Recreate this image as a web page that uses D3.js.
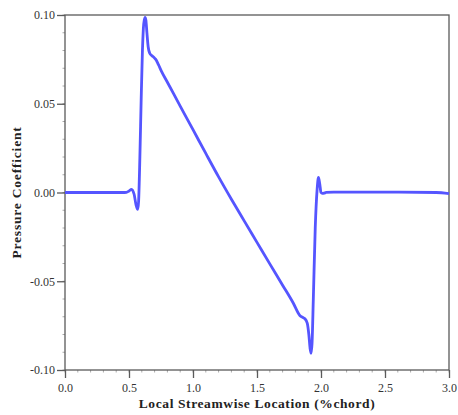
<!DOCTYPE html>
<html>
<head>
<meta charset="utf-8">
<script src="https://cdn.jsdelivr.net/npm/d3@7"></script>
<style>
  html, body { margin: 0; padding: 0; background: #fff; }
  svg { display: block; }
</style>
</head>
<body>
<svg id="chart" width="458" height="415"></svg>
<script>
// Data
const xValues = [0.00, 0.20, 0.45, 0.48, 0.50, 0.52, 0.54, 0.555, 0.568, 0.575, 0.585, 0.595, 0.605, 0.615, 0.625, 0.632, 0.640, 0.650, 0.662, 0.677, 0.692, 0.709, 0.730, 0.755, 0.80, 0.90, 1.00, 1.10, 1.20, 1.30, 1.40, 1.50, 1.60, 1.70, 1.784, 1.836, 1.860, 1.875, 1.893, 1.905, 1.915, 1.922, 1.930, 1.940, 1.955, 1.970, 1.980, 1.990, 2.000, 2.010, 2.025, 2.040, 2.100, 2.500, 2.900, 3.000];
const cpValues = [0.0000, 0.0000, 0.0000, 0.0001, 0.0008, 0.0018, -0.0010, -0.0070, -0.0095, -0.0050, 0.0200, 0.0520, 0.0800, 0.0950, 0.0987, 0.0970, 0.0900, 0.0820, 0.0785, 0.0772, 0.0763, 0.0750, 0.0720, 0.0681, 0.0621, 0.0487, 0.0354, 0.0220, 0.0088, -0.0038, -0.0160, -0.0281, -0.0402, -0.0522, -0.0624, -0.0694, -0.0705, -0.0712, -0.0737, -0.0800, -0.0880, -0.0906, -0.0850, -0.0600, -0.0200, 0.0020, 0.0085, 0.0050, 0.0000, -0.0005, -0.0004, 0.0001, 0.0002, 0.0002, 0.0000, -0.0006];
const xTicks = [0.0, 0.5, 1.0, 1.5, 2.0, 2.5, 3.0];
const yTicks = [-0.10, -0.05, 0.00, 0.05, 0.10];
const xLabel = "Local Streamwise Location (%chord)";
const yLabel = "Pressure Coefficient";

const FONT = "'Liberation Serif', 'Times New Roman', serif";
const svg = d3.select("#chart");
const mLeft = 65, mRight = 449, mTop = 15, mBottom = 370;
const axisColor = "#5a5a5a";

const x = d3.scaleLinear().domain([0, 3]).range([mLeft, mRight]);
const y = d3.scaleLinear().domain([-0.10, 0.10]).range([mBottom, mTop]);

// minor ticks
const xMinor = d3.range(0, 3.0001, 0.1);
const yMinor = d3.range(-0.10, 0.10001, 0.01);
svg.append("g").selectAll("line").data(xMinor).join("line")
  .attr("x1", d => x(d)).attr("x2", d => x(d))
  .attr("y1", mBottom).attr("y2", mBottom + 2.5)
  .attr("stroke", "#aaa").attr("stroke-width", 1);
svg.append("g").selectAll("line").data(yMinor).join("line")
  .attr("x1", mLeft - 2.5).attr("x2", mLeft)
  .attr("y1", d => y(d)).attr("y2", d => y(d))
  .attr("stroke", "#aaa").attr("stroke-width", 1);

// Axes
const xAxis = d3.axisBottom(x).tickValues(xTicks).tickFormat(d3.format(".1f")).tickSize(8).tickPadding(5);
const yAxis = d3.axisLeft(y).tickValues(yTicks).tickFormat(d => Math.abs(d) < 1e-9 ? "0.00" : d3.format(".2f")(d).replace("\u2212", "-")).tickSize(8).tickPadding(2);

const gx = svg.append("g").attr("transform", `translate(0,${mBottom})`).call(xAxis);
const gy = svg.append("g").attr("transform", `translate(${mLeft},0)`).call(yAxis);
[gx, gy].forEach(g => {
  g.attr("font-family", null);
  g.select(".domain").remove();
  g.selectAll(".tick line").attr("stroke", axisColor).attr("stroke-width", 1.3);
  g.selectAll(".tick text").attr("fill", "#333")
    .style("font-family", FONT).style("font-size", "12px");
});

// Frame
svg.append("rect")
  .attr("x", mLeft).attr("y", mTop)
  .attr("width", mRight - mLeft).attr("height", mBottom - mTop)
  .attr("fill", "none").attr("stroke", axisColor).attr("stroke-width", 1.3);

// Line
const pts = xValues.map((d, i) => [d, cpValues[i]]);
const line = d3.line().x(d => x(d[0])).y(d => y(d[1])).curve(d3.curveMonotoneX);
svg.append("path").datum(pts)
  .attr("d", line)
  .attr("fill", "none")
  .attr("stroke", "#5555ff")
  .attr("stroke-width", 2.8)
  .attr("stroke-linejoin", "round");

// Labels
svg.append("text")
  .attr("x", (mLeft + mRight) / 2).attr("y", 408)
  .attr("text-anchor", "middle")
  .style("font-family", FONT).style("font-size", "13.5px").style("font-weight", "bold")
  .style("letter-spacing", "0.6px")
  .attr("fill", "#222")
  .text(xLabel);
svg.append("text")
  .attr("transform", `translate(21,${(mTop + mBottom) / 2}) rotate(-90)`)
  .attr("text-anchor", "middle")
  .style("font-family", FONT).style("font-size", "13.5px").style("font-weight", "bold")
  .style("letter-spacing", "0.8px")
  .attr("fill", "#222")
  .text(yLabel);
</script>
</body>
</html>
